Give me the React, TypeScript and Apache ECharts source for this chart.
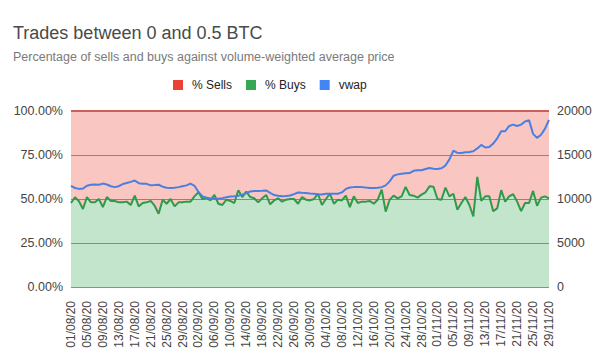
import React, { useEffect, useRef } from "react";
import * as echarts from "echarts";

const titleText = "Trades between 0 and 0.5 BTC";
const subtitleText = "Percentage of sells and buys against volume-weighted average price";
const seriesNames = ["% Sells", "% Buys", "vwap"];

// daily dates 01/08/20 .. 29/11/20
const startDate = { y: 2020, m: 7, d: 1 };
const dayCount = 121;
const dates: string[] = [];
for (let i = 0; i < dayCount; i++) {
  const dt = new Date(Date.UTC(startDate.y, startDate.m, startDate.d + i));
  const dd = String(dt.getUTCDate()).padStart(2, "0");
  const mm = String(dt.getUTCMonth() + 1).padStart(2, "0");
  dates.push(`${dd}/${mm}/20`);
}

// % Buys
const buys = [
  47.7, 51.0, 48.7, 44.3, 51.1, 48.1, 48.1, 50.0, 45.4, 51.1,
  48.9, 48.9, 48.1, 48.1, 48.5, 46.6, 51.9, 45.8, 47.7, 48.1,
  48.9, 46.2, 41.6, 49.6, 47.3, 50.0, 45.8, 48.1, 48.1, 48.5,
  48.5, 51.5, 53.8, 50.0, 50.8, 49.2, 52.3, 47.3, 46.6, 49.6,
  48.9, 47.7, 55.0, 51.1, 54.2, 51.1, 50.4, 48.1, 50.4, 52.3,
  47.0, 49.2, 50.4, 48.5, 49.6, 50.0, 50.0, 47.3, 51.1, 49.6,
  49.2, 50.0, 53.0, 46.6, 50.0, 53.0, 47.3, 49.6, 49.2, 51.9,
  45.4, 51.5, 47.7, 48.5, 48.5, 48.9, 47.3, 49.6, 55.3, 42.8,
  49.6, 51.9, 50.4, 51.5, 56.9, 52.3, 51.9, 50.8, 52.5, 53.8,
  57.2, 56.9, 50.0, 49.6, 56.5, 51.5, 53.0, 43.9, 47.7, 51.1,
  46.6, 40.1, 62.6, 48.9, 51.5, 51.5, 43.1, 44.7, 55.0, 48.5,
  51.5, 52.7, 48.5, 43.1, 47.7, 47.7, 54.6, 46.2, 50.8, 51.5,
  50.4,
];

// % Sells = remainder to 100
const sells = buys.map((b) => +(100 - b).toFixed(1));

// volume-weighted average price
const vwap = [
  11500, 11250, 11150, 11180, 11500, 11620, 11640, 11620, 11750, 11650,
  11450, 11350, 11450, 11700, 11810, 11950, 12100, 11800, 11730, 11720,
  11550, 11580, 11620, 11400, 11280, 11240, 11280, 11350, 11450, 11550,
  11750, 11500, 10800, 10300, 10150, 10060, 10060, 10020, 10100, 10200,
  10280, 10320, 10370, 10500, 10670, 10850, 10900, 10900, 10930, 10970,
  10700, 10450, 10360, 10300, 10330, 10400, 10550, 10740, 10700, 10670,
  10620, 10590, 10500, 10520, 10590, 10600, 10590, 10590, 10750, 11150,
  11300, 11350, 11350, 11350, 11300, 11260, 11240, 11280, 11350, 11550,
  12000, 12650, 12800, 12880, 12920, 12950, 13200, 13260, 13260, 13400,
  13520, 13450, 13410, 13490, 13800, 14500, 15500, 15250, 15240, 15300,
  15350, 15430, 15750, 16150, 15850, 15900, 16300, 16900, 17700, 17700,
  18300, 18450, 18290, 18450, 18800, 18950, 17400, 16950, 17300, 18000,
  19000,
];

const leftTicks = { min: 0, max: 100, interval: 25 };
const rightTicks = { min: 0, max: 20000, interval: 5000 };

const FONT = "'Liberation Sans', Arial, sans-serif";

export default function App() {
  const ref = useRef<HTMLDivElement>(null);
  useEffect(() => {
    if (!ref.current) return;
    document.body.style.margin = "0";
    const chart = echarts.init(ref.current, undefined, { renderer: "svg" });
    chart.setOption({
      animation: false,
      backgroundColor: "#ffffff",
      textStyle: { fontFamily: FONT },
      title: [
        {
          text: titleText,
          left: 8,
          top: 19,
          textStyle: { fontFamily: FONT, fontSize: 18, fontWeight: "normal", color: "#4a4a4a" },
        },
        {
          text: subtitleText,
          left: 8,
          top: 45,
          textStyle: { fontFamily: FONT, fontSize: 12.5, fontWeight: "normal", color: "#7a7a7a" },
        },
      ],
      legend: {
        data: seriesNames,
        left: 168,
        top: 74,
        icon: "rect",
        itemWidth: 10,
        itemHeight: 10,
        itemGap: 14,
        textStyle: { fontFamily: FONT, fontSize: 12, color: "#222222", padding: [0, 0, 0, 4] },
      },
      grid: { left: 71, right: 51, top: 111, bottom: 75, containLabel: false },
      xAxis: {
        type: "category",
        data: dates,
        boundaryGap: false,
        axisLine: { show: false },
        axisTick: { show: false },
        axisLabel: {
          interval: 3,
          rotate: 90,
          fontSize: 12,
          color: "#444444",
          fontFamily: FONT,
          margin: 14,
        },
        splitLine: { show: false },
      },
      yAxis: [
        {
          type: "value",
          min: leftTicks.min,
          max: leftTicks.max,
          interval: leftTicks.interval,
          axisLine: { show: false },
          axisTick: { show: false },
          axisLabel: {
            formatter: (v: number) => `${v.toFixed(2)}%`,
            fontSize: 12.5,
            color: "#444444",
            fontFamily: FONT,
            margin: 8,
          },
          splitLine: { show: true, lineStyle: { color: "#948c8c", width: 1 } },
        },
        {
          type: "value",
          min: rightTicks.min,
          max: rightTicks.max,
          interval: rightTicks.interval,
          axisLine: { show: false },
          axisTick: { show: false },
          axisLabel: {
            formatter: (v: number) => String(v),
            fontSize: 12.5,
            color: "#444444",
            fontFamily: FONT,
            margin: 8,
          },
          splitLine: { show: false },
        },
      ],
      series: [
        {
          name: "% Buys",
          type: "line",
          stack: "pct",
          data: buys,
          showSymbol: false,
          color: "#34a853",
          lineStyle: { width: 2, color: "#2e9a4a" },
          areaStyle: { color: "#34a853", opacity: 0.3 },
          z: 2,
        },
        {
          name: "% Sells",
          type: "line",
          stack: "pct",
          data: sells,
          showSymbol: false,
          color: "#ea4335",
          lineStyle: { width: 2, color: "#c9605a" },
          areaStyle: { color: "#ea4335", opacity: 0.3 },
          z: 2,
        },
        {
          name: "vwap",
          type: "line",
          yAxisIndex: 1,
          data: vwap,
          showSymbol: false,
          color: "#4285f4",
          lineStyle: { width: 2, color: "#4a7fe0" },
          z: 3,
        },
      ],
    });
    return () => chart.dispose();
  }, []);
  return <div ref={ref} style={{ width: 600, height: 362 }} />;
}
